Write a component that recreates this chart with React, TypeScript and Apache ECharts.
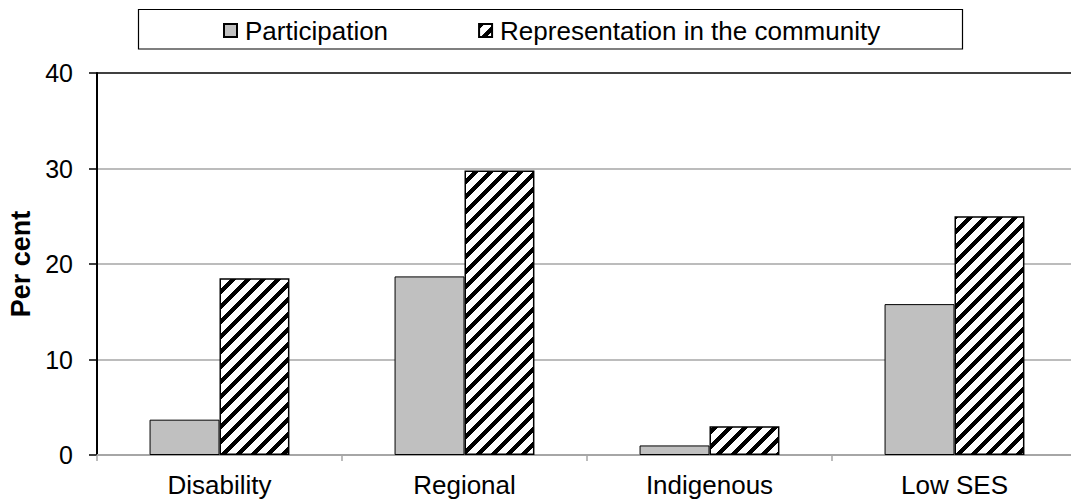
import { useEffect, useRef } from 'react';
import * as echarts from 'echarts';

const categories = ['Disability', 'Regional', 'Indigenous', 'Low SES'];
const participation = [3.7, 18.7, 1.0, 15.8];
const representation = [18.5, 29.8, 3.0, 25.0];
const seriesNames = ['Participation', 'Representation in the community'];
const yMin = 0;
const yMax = 40;
const yStep = 10;

// Pixel-stepped "wide upward diagonal" hatch tile
function makeHatch(): HTMLCanvasElement {
  const size = 15;
  const band = 6;
  const c = document.createElement('canvas');
  c.width = size;
  c.height = size;
  const ctx = c.getContext('2d')!;
  ctx.fillStyle = '#ffffff';
  ctx.fillRect(0, 0, size, size);
  ctx.fillStyle = '#000000';
  for (let y = 0; y < size; y++) {
    for (let k = 0; k < band; k++) {
      const x = (size - 1 - y + k + size) % size;
      ctx.fillRect(x, y, 1, 1);
    }
  }
  return c;
}

const FONT = '"Liberation Sans", Arial, sans-serif';

export default function App() {
  const ref = useRef<HTMLDivElement>(null);

  useEffect(() => {
    if (!ref.current) return;
    const chart = echarts.init(ref.current, undefined, { renderer: 'svg' });
    const hatch = makeHatch();
    const gridGray = '#a6a6a6';

    chart.setOption({
      animation: false,
      backgroundColor: '#ffffff',
      textStyle: { fontFamily: FONT, color: '#000' },
      grid: {
        left: 97,
        right: -6,
        top: 73,
        bottom: 46,
        containLabel: false,
        outerBoundsMode: 'none',
      },
      graphic: [
        {
          type: 'rect',
          shape: { x: 138.5, y: 9.5, width: 824, height: 39.5 },
          style: { fill: 'none', stroke: '#000', lineWidth: 1.2 },
          silent: true,
          z: 0,
        },
      ],
      legend: {
        left: 223,
        top: 17.5,
        padding: 0,
        itemWidth: 13,
        itemHeight: 13,
        itemGap: 90,
        icon: 'rect',
        data: seriesNames,
        textStyle: {
          fontFamily: FONT,
          fontSize: 26,
          lineHeight: 26,
          color: '#000',
          padding: [0, 0, 0, 3],
        },
      },
      xAxis: {
        type: 'category',
        data: categories,
        axisLine: { show: true, lineStyle: { color: gridGray, width: 2 } },
        axisTick: { show: true, length: 6, lineStyle: { color: gridGray, width: 1.5 } },
        axisLabel: { color: '#000', fontFamily: FONT, fontSize: 26, margin: 17 },
        splitLine: { show: false },
      },
      yAxis: {
        type: 'value',
        min: yMin,
        max: yMax,
        interval: yStep,
        name: 'Per cent',
        nameLocation: 'middle',
        nameGap: 63,
        nameTextStyle: { fontFamily: FONT, fontSize: 27, fontWeight: 'bold', color: '#000' },
        axisLine: { show: true, lineStyle: { color: '#000', width: 2 } },
        axisTick: { show: true, length: 8, lineStyle: { color: '#000', width: 1.5 } },
        axisLabel: { color: '#000', fontFamily: FONT, fontSize: 25, margin: 24 },
        splitLine: {
          show: true,
          lineStyle: { color: [gridGray, gridGray, gridGray, gridGray, '#000'], width: 1.6 },
        },
      },
      series: [
        {
          name: seriesNames[0],
          type: 'bar',
          data: participation,
          barGap: '0%',
          barCategoryGap: '42.9%',
          itemStyle: { color: '#c0c0c0', borderColor: '#000', borderWidth: 1 },
        },
        {
          name: seriesNames[1],
          type: 'bar',
          data: representation,
          barGap: '0%',
          barCategoryGap: '42.9%',
          itemStyle: {
            color: { image: hatch, repeat: 'repeat' },
            borderColor: '#000',
            borderWidth: 1.5,
          },
        },
      ],
    });

    return () => chart.dispose();
  }, []);

  return (
    <div
      ref={ref}
      style={{ position: 'fixed', left: 0, top: 0, width: 1071, height: 501, background: '#fff' }}
    />
  );
}
